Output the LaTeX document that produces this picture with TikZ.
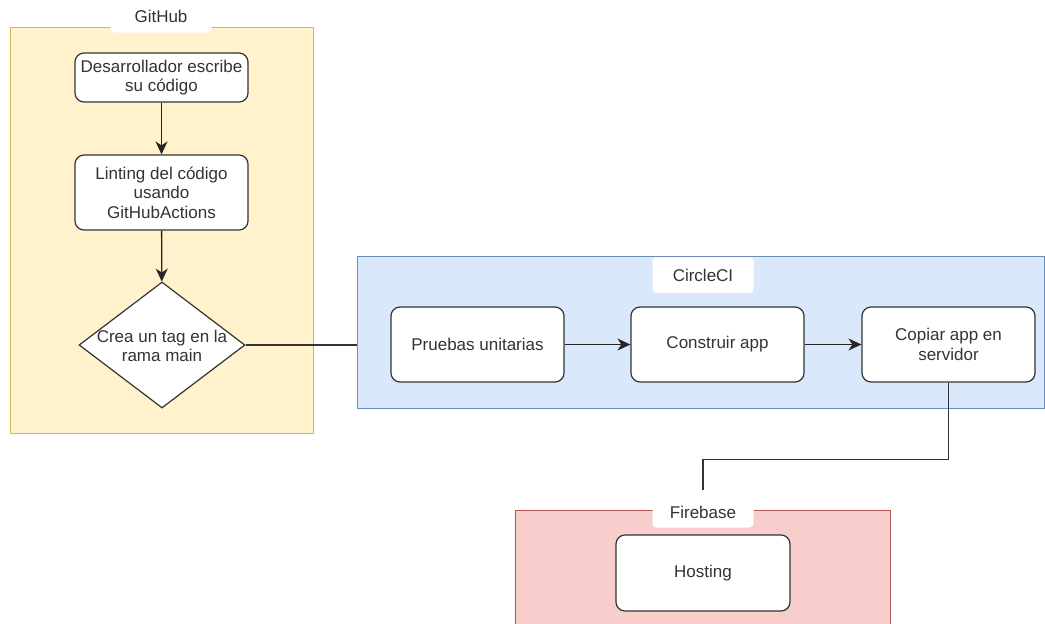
\documentclass[tikz,border=0pt]{standalone}
\usepackage{fontspec}
\setmainfont{Liberation Sans}
\usetikzlibrary{shapes.geometric,arrows.meta}
\definecolor{ghfill}{HTML}{FFF2CC}
\definecolor{ghline}{HTML}{D6B656}
\definecolor{cifill}{HTML}{DAE8FC}
\definecolor{ciline}{HTML}{6C8EBF}
\definecolor{fbfill}{HTML}{F8CECC}
\definecolor{fbline}{HTML}{B85450}
\begin{document}
\begin{tikzpicture}[x=1pt,y=-1pt,
  every node/.style={font=\fontsize{17}{19.5}\selectfont,text=black!80},
  caja/.style={draw=black!80,line width=1.2pt,rounded corners=9pt,fill=white,minimum width=173pt,inner sep=0pt,align=center},
  grupo/.style={line width=1pt,inner sep=0pt},
  titulo/.style={fill=white,rounded corners=4pt,minimum width=101pt,inner sep=0pt},
  flecha/.style={line width=1.3pt,draw=black!85,-{Stealth[length=13pt,width=12pt,inset=4pt]}},
  linea/.style={line width=1.2pt,draw=black!80}]
\useasboundingbox (0,0) rectangle (1045,624);

% contenedores
\node[grupo,draw=ghline,fill=ghfill,minimum width=303pt,minimum height=406pt] (github) at (161.5,230) {};
\node[grupo,draw=ciline,fill=cifill,minimum width=687pt,minimum height=152pt] (circleci) at (700.5,332) {};
\node[grupo,draw=fbline,fill=fbfill,minimum width=375pt,minimum height=116pt] (firebase) at (702.5,568) {};

\node[titulo,minimum height=33pt] (tgithub) at (161,16) {GitHub};
\node[titulo,minimum height=36pt] (tcircleci) at (703,275) {CircleCI};
\node[titulo,minimum height=31pt] (tfirebase) at (703,512) {Firebase};

% GitHub
\node[caja,minimum height=49pt] (des) at (161.5,77.5) {Desarrollador escribe\\su código};
\node[caja,minimum height=75pt] (lint) at (161.5,192.5) {Linting del código\\usando\\GitHubActions};
\node[diamond,draw=black!80,line width=1.2pt,fill=white,inner sep=0pt,minimum width=166pt,minimum height=126pt] (crea) at (162,345) {};
\node[align=center] (creatxt) at (162,346) {Crea un tag en la\\rama main};

% CircleCI
\foreach \n/\x/\t in {pru/477.5/Pruebas unitarias,con/717.5/Construir app,cop/948.5/Copiar app en\\servidor}{ \node[caja,minimum height=75pt] (\n) at (\x,344.5) {\t};}

% Firebase
\node[caja,minimum height=76pt,minimum width=174pt] (hos) at (703,573) {Hosting};

\draw[flecha] (des) -- (lint);
\draw[flecha] (lint) -- (crea);
\draw[linea] (crea.east) -- (crea.east -| circleci.west);
\foreach \a/\b in {pru/con,con/cop}{ \draw[flecha] (\a) -- (\b);}
\coordinate (fbin) at (703,490);
\draw[linea] (cop.south) -- ++(0,77) -| (fbin);

\end{tikzpicture}
\end{document}
